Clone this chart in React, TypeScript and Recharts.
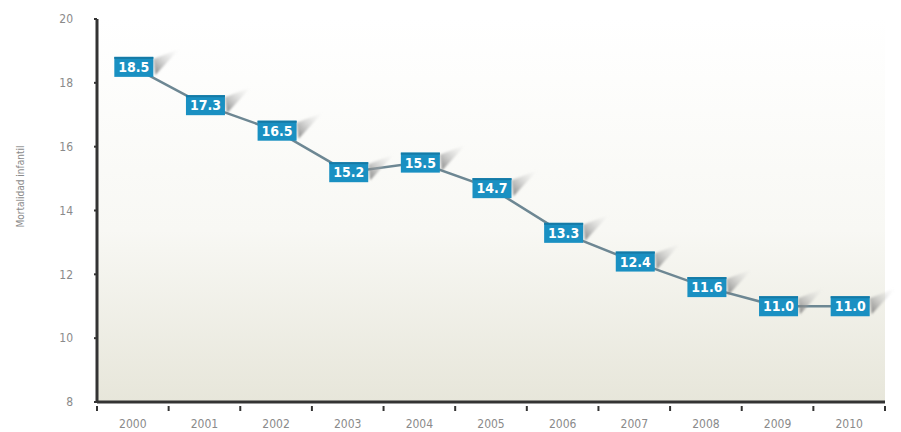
import React from 'react';
import { LineChart, Line, XAxis, YAxis, CartesianGrid } from 'recharts';

const years = ['2000', '2001', '2002', '2003', '2004', '2005', '2006', '2007', '2008', '2009', '2010'];
const mortality = [18.5, 17.3, 16.5, 15.2, 15.5, 14.7, 13.3, 12.4, 11.6, 11.0, 11.0];
const yTicks = [8, 10, 12, 14, 16, 18, 20];

const data = years.map((year, i) => ({ year, value: mortality[i] }));

const W = 901;
const H = 432;
const M = { top: 19, right: 16, bottom: 0, left: 0 };
const X_AXIS_H = 30;
const Y_AXIS_W = 97;
const PLOT_W = W - M.left - M.right - Y_AXIS_W;
const BAND = PLOT_W / years.length;

const tickFont = '"Liberation Sans Narrow", "DejaVu Sans Condensed", "Arial Narrow", sans-serif';

const XTick = (props: any) => {
  const { x, y, payload, index } = props;
  const half = BAND / 2;
  return (
    <g>
      <line x1={x - half} x2={x - half} y1={y - 4} y2={y + 1} stroke="#333" strokeWidth={2} />
      {index === years.length - 1 && (
        <line x1={x + half} x2={x + half} y1={y - 4} y2={y + 1} stroke="#333" strokeWidth={2} />
      )}
      <text x={x} y={y + 18} textAnchor="middle" fontSize={12} fill="#8a8a8a" fontFamily={tickFont}>
        {payload.value}
      </text>
    </g>
  );
};

const ValueBox = (props: any) => {
  const { x, y, value } = props;
  if (x == null || y == null) return null;
  const bw = 39;
  const bh = 20;
  const l = x - bw / 2 + 1;
  const t = y - bh / 2;
  const r = l + bw;
  return (
    <g>
      <polygon
        points={`${r},${t + 2} ${r + 26},${t - 8} ${r + 2},${t + bh - 2}`}
        fill="url(#wedge)"
        filter="url(#soft)"
      />
      <rect x={l} y={t} width={bw} height={bh} fill="#1a90c2" />
      <rect x={l} y={t} width={bw} height={2} fill="#157aa6" />
      <text
        x={l + bw / 2}
        y={t + 15}
        textAnchor="middle"
        fontSize={14}
        fontWeight="bold"
        fill="#ffffff"
        fontFamily={tickFont}
      >
        {Number(value).toFixed(1)}
      </text>
    </g>
  );
};

export default function App() {
  return (
    <div style={{ position: 'absolute', left: 0, top: 0, width: W, height: H, background: '#fff' }}>
      <LineChart width={W} height={H} data={data} margin={M}>
        <defs>
          <linearGradient id="bg" x1="0" y1="0" x2="0" y2="1">
            <stop offset="0%" stopColor="#ffffff" />
            <stop offset="55%" stopColor="#f8f8f4" />
            <stop offset="100%" stopColor="#e7e6da" />
          </linearGradient>
          <linearGradient id="wedge" x1="0" y1="1" x2="1" y2="0">
            <stop offset="0%" stopColor="#6a6a6a" stopOpacity={0.85} />
            <stop offset="50%" stopColor="#b0b0b0" stopOpacity={0.45} />
            <stop offset="100%" stopColor="#e0e0e0" stopOpacity={0} />
          </linearGradient>
          <filter id="soft" x="-30%" y="-30%" width="160%" height="160%">
            <feGaussianBlur stdDeviation="1.2" />
          </filter>
        </defs>
        <CartesianGrid fill="url(#bg)" stroke="none" horizontal={false} vertical={false} />
        <XAxis
          dataKey="year"
          type="category"
          padding={{ left: BAND / 2, right: BAND / 2 }}
          axisLine={{ stroke: '#333', strokeWidth: 3 }}
          tickLine={false}
          tick={<XTick />}
          interval={0}
          height={X_AXIS_H}
        />
        <YAxis
          domain={[8, 20]}
          ticks={yTicks}
          width={Y_AXIS_W}
          axisLine={{ stroke: '#333', strokeWidth: 3 }}
          tickLine={{ stroke: '#333', strokeWidth: 2 }}
          tickSize={3}
          tickMargin={21}
          tick={{ fontSize: 12, fill: '#8a8a8a', fontFamily: tickFont }}
          label={{
            value: 'Mortalidad infantil',
            angle: -90,
            position: 'insideLeft',
            offset: 20,
            dy: -24,
            style: { fontSize: 10, fill: '#8a8a8a', fontFamily: tickFont, textAnchor: 'middle' },
          }}
        />
        <Line
          type="linear"
          dataKey="value"
          stroke="#6d8793"
          strokeWidth={2.5}
          dot={false}
          activeDot={false}
          isAnimationActive={false}
          label={(p: any) => <ValueBox key={p.index} {...p} />}
        />
      </LineChart>
    </div>
  );
}
